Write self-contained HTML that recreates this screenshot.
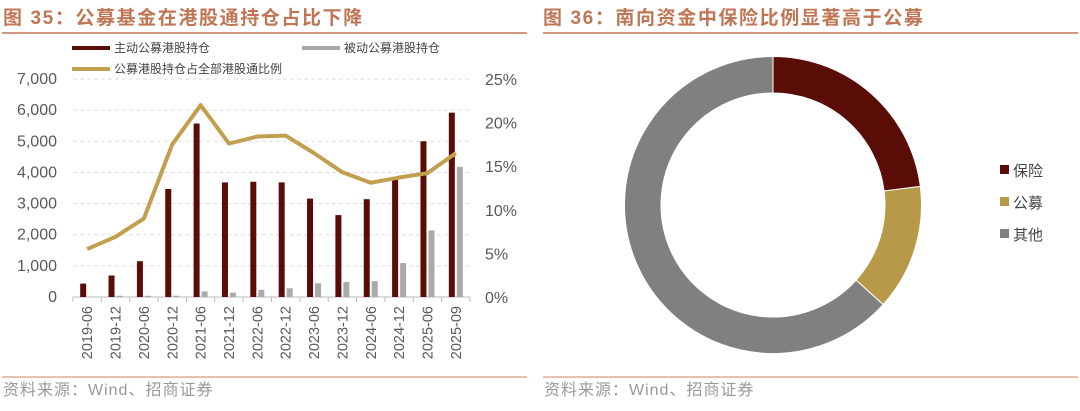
<!DOCTYPE html>
<html><head><meta charset="utf-8"><style>
body{margin:0;width:1080px;height:406px;background:#fff;overflow:hidden;font-family:"Liberation Sans","Noto Sans CJK SC",sans-serif;}
svg text{font-family:"Liberation Sans","Noto Sans CJK SC",sans-serif;}
</style></head><body>
<svg id="s" width="1080" height="406" xmlns="http://www.w3.org/2000/svg">
<text x="3" y="24" font-size="19" font-weight="bold" letter-spacing="1.6" fill="#C07655">图 35：公募基金在港股通持仓占比下降</text>
<line x1="2" y1="33" x2="527" y2="33" stroke="#C07655" stroke-width="1.5"/>
<text x="543" y="24" font-size="19" font-weight="bold" letter-spacing="1.6" fill="#C07655">图 36：南向资金中保险比例显著高于公募</text>
<line x1="543" y1="33" x2="1078" y2="33" stroke="#C07655" stroke-width="1.5"/>
<line x1="2" y1="377" x2="527" y2="377" stroke="#D08060" stroke-width="1"/>
<line x1="543" y1="377" x2="1078" y2="377" stroke="#D08060" stroke-width="1"/>
<text x="3" y="395" font-size="16" letter-spacing="1" fill="#999">资料来源：Wind、招商证券</text>
<text x="544" y="395" font-size="16" letter-spacing="1" fill="#999">资料来源：Wind、招商证券</text>
<g id="bar"></g>
<g id="pie"></g>
</svg>
<script>
const categories=["2019-06","2019-12","2020-06","2020-12","2021-06","2021-12","2022-06","2022-12","2023-06","2023-12","2024-06","2024-12","2025-06","2025-09"];
const activeValues=[430,690,1150,3470,5570,3680,3700,3680,3160,2630,3140,3760,5000,5920];
const passiveValues=[10,40,40,40,180,140,230,280,440,480,510,1090,2140,4180];
const shareValues=[5.5,6.9,9.0,17.5,22.0,17.6,18.4,18.5,16.5,14.3,13.1,13.7,14.2,16.5];
const leftTicks=[0,1000,2000,3000,4000,5000,6000,7000];
const leftTickLabels=["0","1,000","2,000","3,000","4,000","5,000","6,000","7,000"];
const rightTicks=[0,5,10,15,20,25];
const rightTickLabels=["0%","5%","10%","15%","20%","25%"];
const pieLabels=["保险","公募","其他"];
const pieValues=[23,13.7,63.3];
const pieColors=["#5A0D06","#B8994A","#808080"];

const NS="http://www.w3.org/2000/svg";
function mk(p,t,a){const e=document.createElementNS(NS,t);for(const k in a)e.setAttribute(k,a[k]);p.appendChild(e);return e;}
const g=document.getElementById('bar');
const X0=73,X1=470,Y0=297,Y1=79;
const band=(X1-X0)/categories.length;
const yL=v=>Y0-(v/7000)*(Y0-Y1);
const yR=v=>Y0-(v/25)*(Y0-Y1);
const xc=i=>X0+band*(i+0.5);
leftTicks.forEach((t,i)=>{
  if(t>0){const l=mk(g,'line',{x1:X0,x2:X1,y1:yL(t),y2:yL(t),stroke:'#ddd','stroke-dasharray':'4,3'});
  
  }
  const tx=mk(g,'text',{x:57,y:yL(t)+5,'font-size':16,fill:'#595959','text-anchor':'end'});tx.textContent=leftTickLabels[i];
  
  
});
rightTicks.forEach((t,i)=>{
  const tx=mk(g,'text',{x:485,y:yR(t)+6,'font-size':16,fill:'#595959'});tx.textContent=rightTickLabels[i];
  
  
});
const ax=mk(g,'line',{x1:X0,x2:X1,y1:Y0,y2:Y0,stroke:'#bbb'});


for(let i=0;i<=categories.length;i++){const tk=mk(g,'line',{x1:X0+band*i,x2:X0+band*i,y1:Y0,y2:Y0+5,stroke:'#bbb'});
  
  }
categories.forEach((c,i)=>{
  const b=mk(g,'rect',{x:xc(i)-7,y:yL(activeValues[i]),width:6,height:Y0-yL(activeValues[i]),fill:'#5A0D06'});
  
  
  const p=mk(g,'rect',{x:xc(i)+1,y:yL(passiveValues[i]),width:6,height:Y0-yL(passiveValues[i]),fill:'#AAAAAA'});
  
  
  const t=mk(g,'text',{x:0,y:0,'font-size':14.5,fill:'#595959','text-anchor':'end',transform:`translate(${xc(i)+5},${Y0+9}) rotate(-90)`});t.textContent=c;
  
  
});
const pl=mk(g,'polyline',{points:shareValues.map((v,i)=>xc(i)+','+yR(v)).join(' '),fill:'none',stroke:'#C29F4E','stroke-width':4,'stroke-linejoin':'round'});


const legs=[[72,48,'#5A0D06','主动公募港股持仓'],[302,48,'#AAAAAA','被动公募港股持仓'],[72,69,'#C29F4E','公募港股持仓占全部港股通比例']];
legs.forEach(l=>{
  const r=mk(g,'rect',{x:l[0],y:l[1]-2,width:38,height:4,fill:l[2]});
  
  
  const t=mk(g,'text',{x:l[0]+42,y:l[1]+4,'font-size':12,fill:'#444'});t.textContent=l[3];
  
  
});
const pg=document.getElementById('pie');
const cx=773,cy=205,R=148.5,r=112;
const tot=pieValues.reduce((a,b)=>a+b,0);
let a0=0;
function pt(rad,a){return [cx+rad*Math.sin(a),cy-rad*Math.cos(a)];}
pieValues.forEach((v,i)=>{
  const a1=a0+v/tot*2*Math.PI;const lg=(a1-a0)>Math.PI?1:0;
  const p1=pt(R,a0),p2=pt(R,a1),p3=pt(r,a1),p4=pt(r,a0);
  const s=mk(pg,'path',{d:`M${p1}A${R},${R} 0 ${lg} 1 ${p2}L${p3}A${r},${r} 0 ${lg} 0 ${p4}Z`,fill:pieColors[i],stroke:'#fff','stroke-width':1});
  
  
  a0=a1;
  const sq=mk(pg,'rect',{x:1000,y:165+i*32,width:9,height:9,fill:pieColors[i]});
  
  
  const t=mk(pg,'text',{x:1013,y:176+i*32,'font-size':15,fill:'#444'});t.textContent=pieLabels[i];
  
  
});
</script>
</body></html>
